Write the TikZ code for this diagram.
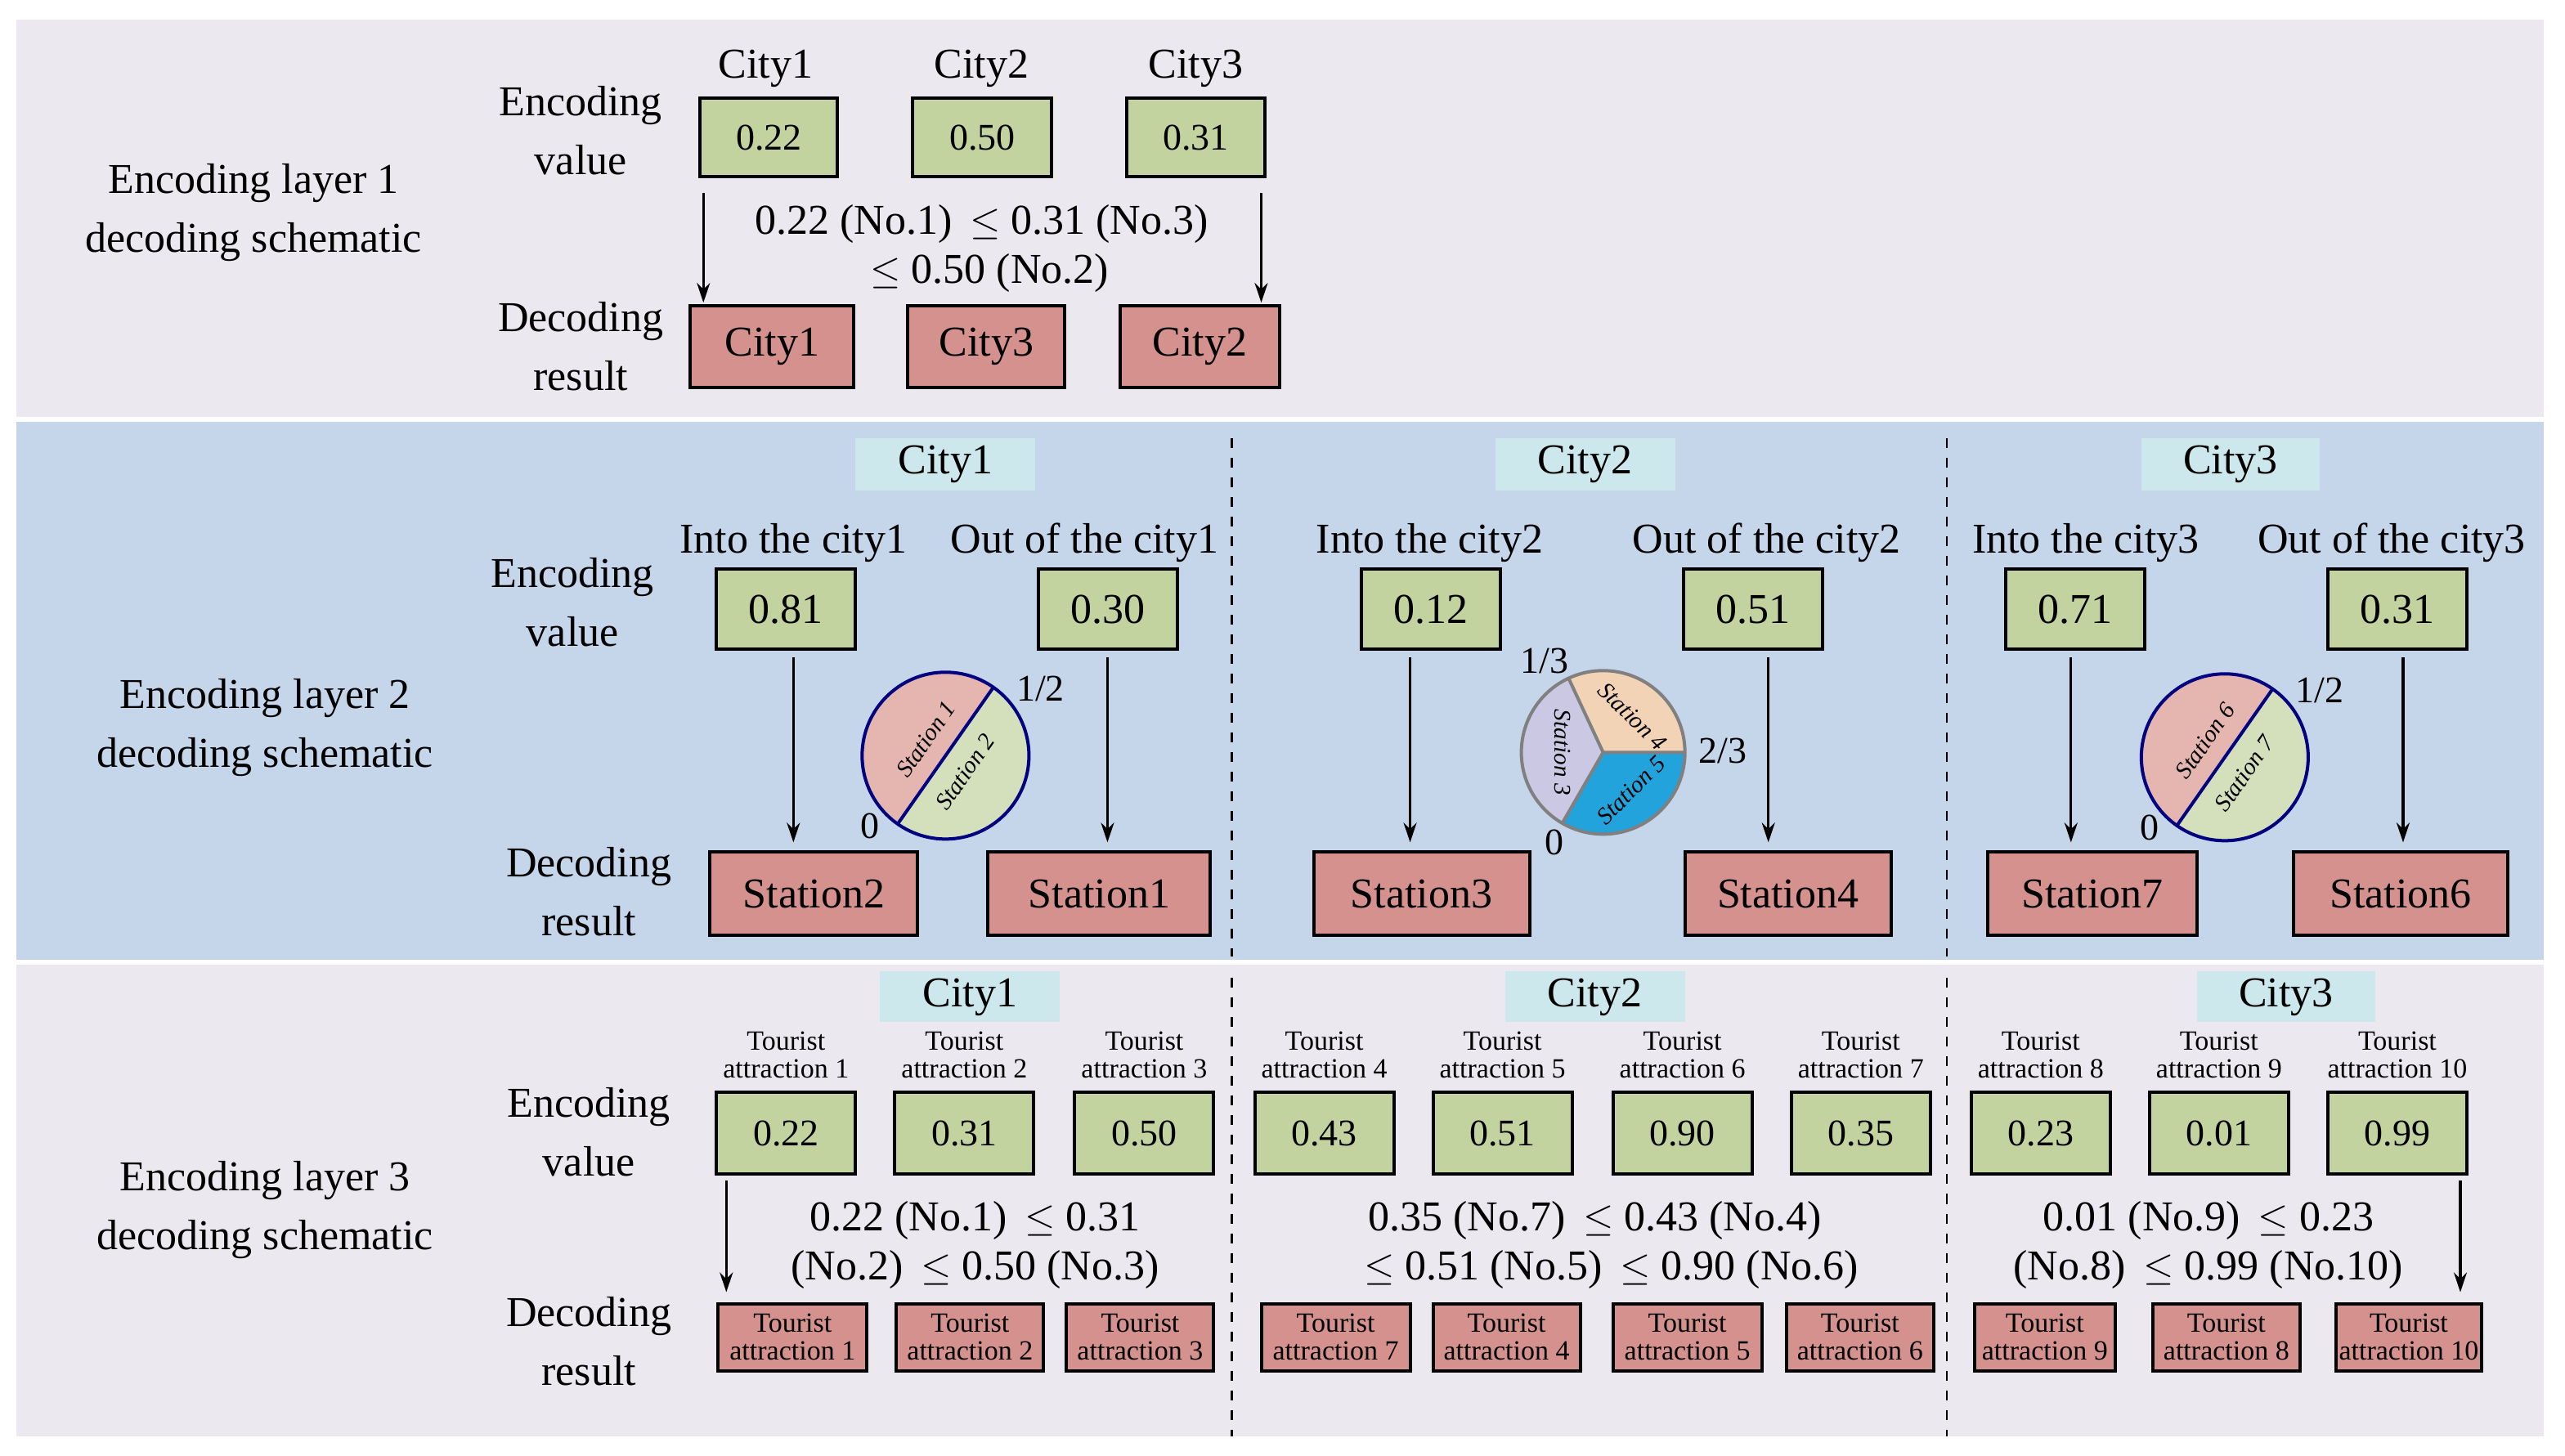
\documentclass[tikz,border=0pt]{standalone}
\usepackage{fontspec}
\setmainfont{Liberation Serif}
\usetikzlibrary{arrows.meta}
\definecolor{lav}{HTML}{ECE8EF}
\definecolor{blu}{HTML}{C5D5EA}
\definecolor{gr}{HTML}{C2D3A0}
\definecolor{rd}{HTML}{D4918D}
\definecolor{cy}{HTML}{CDE8EC}
\definecolor{pk}{HTML}{E5B5B0}
\definecolor{lg}{HTML}{D4E0BC}
\definecolor{pe}{HTML}{F3D3B5}
\definecolor{li}{HTML}{CBC8E3}
\definecolor{sb}{HTML}{22A3DB}
\tikzset{
 gbox/.style={draw=black,line width=1pt,fill=gr},
 rbox/.style={draw=black,line width=1pt,fill=rd},
 hdr/.style={draw=none,fill=cy},
 big/.style={font=\fontsize{13}{18}\selectfont,align=center,inner sep=0},
 mid/.style={font=\fontsize{11.5}{13}\selectfont,align=center,inner sep=0},
 sml/.style={font=\fontsize{8.5}{8.5}\selectfont,align=center,inner sep=0},
 arr/.style={-{Stealth[length=6pt,width=4pt]},line width=0.8pt},
 dsh/.style={dashed,line width=0.6pt},
 st/.style={font=\itshape\fontsize{7.3}{8}\selectfont,inner sep=0},
}
\newcommand\bt[8]{\draw[#6] (#2,#3) rectangle (#4,#5);
 \node[#7] (#1) at ({(#2+#4)/2},{(#3+#5)/2}) {#8};}
\begin{document}
\begin{tikzpicture}[x=0.5pt,y=-0.5pt]
\useasboundingbox (0,0) rectangle (1568,890);
\fill[white] (0,0) rectangle (1568,890);
\fill[lav] (10,12) rectangle (1555,255);
\fill[blu] (10,258) rectangle (1555,587);
\fill[lav] (10,590) rectangle (1555,878);
% ---------- layer 1
\node[big] (l1) at (155,130) {Encoding layer 1\\decoding schematic};
\node[big] (ev1) at (355,80) {Encoding\\value};
\node[big] (dr1) at (355,212) {Decoding\\result};
\node[big] (c1) at (468,42) {City1};
\node[big] (c2) at (600,42) {City2};
\node[big] (c3) at (731,42) {City3};
\bt{g1}{428}{60}{512}{108}{gbox}{mid}{0.22}
\bt{g2}{558}{60}{643}{108}{gbox}{mid}{0.50}
\bt{g3}{689}{60}{773}{108}{gbox}{mid}{0.31}
\bt{r1}{422}{187}{522}{237}{rbox}{big}{City1}
\bt{r2}{555}{187}{651}{237}{rbox}{big}{City3}
\bt{r3}{685}{187}{782}{237}{rbox}{big}{City2}
\coordinate (a1s) at (430,118); \coordinate (a1e) at (430,185);
\coordinate (a2s) at (771,118); \coordinate (a2e) at (771,185);
\draw[arr] (a1s) -- (a1e); \draw[arr] (a2s) -- (a2e);
\node[big] (t1) at (600,137) {0.22 (No.1) \,$\leq$ 0.31 (No.3)};
\node[big] (t2) at (605,167) {$\leq$ 0.50 (No.2)};
% ---------- layer 2
\draw[dsh] (753,268) -- (753,585);
\draw[dsh] (1190,268) -- (1190,585);
\node[big] (l2) at (162,445) {Encoding layer 2\\decoding schematic};
\node[big] (ev2) at (350,368) {Encoding\\value};
\node[big] (dr2) at (360,545) {Decoding\\result};
\bt{h1}{523}{268}{633}{300}{hdr}{big}{City1}
\bt{h2}{914}{268}{1024}{300}{hdr}{big}{City2}
\bt{h3}{1309}{268}{1418}{300}{hdr}{big}{City3}
\node[big] (i1) at (485,332) {Into the city1};
\node[big] (o1) at (663,332) {Out of the city1};
\node[big] (i2) at (874,332) {Into the city2};
\node[big] (o2) at (1080,332) {Out of the city2};
\node[big] (i3) at (1275,332) {Into the city3};
\node[big] (o3) at (1462,332) {Out of the city3};
\bt{m1}{438}{348}{523}{397}{gbox}{big}{0.81}
\bt{m2}{635}{348}{720}{397}{gbox}{big}{0.30}
\bt{m3}{832}{348}{917}{397}{gbox}{big}{0.12}
\bt{m4}{1029}{348}{1114}{397}{gbox}{big}{0.51}
\bt{m5}{1226}{348}{1311}{397}{gbox}{big}{0.71}
\bt{m6}{1423}{348}{1508}{397}{gbox}{big}{0.31}
\bt{s1}{434}{521}{561}{572}{rbox}{big}{Station2}
\bt{s2}{604}{521}{740}{572}{rbox}{big}{Station1}
\bt{s3}{803}{521}{935}{572}{rbox}{big}{Station3}
\bt{s4}{1030}{521}{1156}{572}{rbox}{big}{Station4}
\bt{s5}{1215}{521}{1343}{572}{rbox}{big}{Station7}
\bt{s6}{1402}{521}{1533}{572}{rbox}{big}{Station6}
\foreach \x/\n in {485/1,677/2,862/3,1081/4,1266/5,1469/6}{
 \coordinate (b\n s) at (\x,402); \coordinate (b\n e) at (\x,515);
 \draw[arr] (b\n s) -- (b\n e);}
\foreach \cx/\cy/\a/\b in {578/462/1/2,1360/463/6/7}{
\begin{scope}[shift={(\cx,\cy)},yscale=-1]
 \fill[pk] (0,0) -- (55:51) arc (55:235:51) -- cycle;
 \fill[lg] (0,0) -- (235:51) arc (235:415:51) -- cycle;
 \draw[line width=1pt,draw=blue!50!black] (0,0) circle (51);
 \draw[line width=1pt,draw=blue!50!black] (235:51) -- (55:51);
 \node[st,rotate=55] at (-12,10) {Station \a};
 \node[st,rotate=55] at (12,-10) {Station \b};
 \node[mid] at (58,41) {1/2};
 \node[mid] at (-46,-43) {0};
\end{scope}}
\begin{scope}[shift={(980,460)},yscale=-1]
 \fill[pe] (0,0) -- (0:50) arc (0:115:50) -- cycle;
 \fill[li] (0,0) -- (115:50) arc (115:240:50) -- cycle;
 \fill[sb] (0,0) -- (240:50) arc (240:360:50) -- cycle;
 \draw[line width=1pt,draw=gray] (0,0) circle (50);
 \draw[line width=1pt,draw=gray] (0,0) -- (0:50) (0,0) -- (115:50) (0,0) -- (240:50);
 \node[st,rotate=-45] at (18,22) {Station 4};
 \node[st,rotate=-90] at (-25,0) {Station 3};
 \node[st,rotate=45] at (17,-23) {Station 5};
 \node[mid] at (-36,56) {1/3};
 \node[mid] at (73,1) {2/3};
 \node[mid] at (-30,-55) {0};
\end{scope}
% ---------- layer 3
\draw[dsh] (753,598) -- (753,878);
\draw[dsh] (1190,598) -- (1190,878);
\node[big] (l3) at (162,740) {Encoding layer 3\\decoding schematic};
\node[big] (ev3) at (360,692) {Encoding\\value};
\node[big] (dr3) at (360,820) {Decoding\\result};
\bt{k1}{538}{594}{648}{625}{hdr}{big}{City1}
\bt{k2}{920}{594}{1030}{625}{hdr}{big}{City2}
\bt{k3}{1343}{594}{1452}{625}{hdr}{big}{City3}
\foreach \xa/\v/\n [count=\i] in {438/0.22/1,547/0.31/2,657/0.50/3,767/0.43/4,876/0.51/5,986/0.90/6,1095/0.35/7,1205/0.23/8,1314/0.01/9,1423/0.99/10}{
 \bt{e\i}{\xa}{668}{\xa+85}{718}{gbox}{mid}{\v}
 \node[sml] (ta\i) at (\xa+42.5,645) {Tourist\\attraction \n};}
\foreach \xa/\xb/\n [count=\i] in {439/530/1,548/638/2,652/742/3,771/862/7,876/966/4,986/1077/5,1092/1182/6,1207/1293/9,1316/1406/8,1428/1517/10}{
 \bt{d\i}{\xa}{797}{\xb}{838}{rbox}{sml}{Tourist\\attraction \n}}
\coordinate (c1s) at (444,722); \coordinate (c1e) at (444,790);
\coordinate (c2s) at (1504,722); \coordinate (c2e) at (1504,790);
\draw[arr] (c1s) -- (c1e); \draw[arr] (c2s) -- (c2e);
\node[big] (u1) at (596,746) {0.22 (No.1) \,$\leq$ 0.31};
\node[big] (u2) at (596,776) {(No.2) \,$\leq$ 0.50 (No.3)};
\node[big] (u3) at (975,746) {0.35 (No.7) \,$\leq$ 0.43 (No.4)};
\node[big] (u4) at (985,776) {$\leq$ 0.51 (No.5) \,$\leq$ 0.90 (No.6)};
\node[big] (u5) at (1350,746) {0.01 (No.9) \,$\leq$ 0.23};
\node[big] (u6) at (1350,776) {(No.8) \,$\leq$ 0.99 (No.10)};
\end{tikzpicture}
\end{document}
